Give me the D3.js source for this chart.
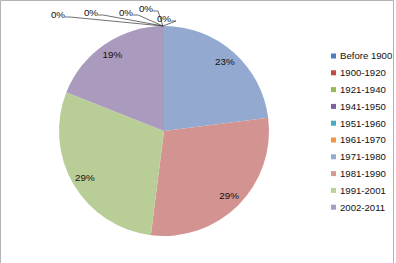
<!DOCTYPE html>
<html>
<head>
<meta charset="utf-8">
<script src="https://cdn.jsdelivr.net/npm/d3@7"></script>
<style>
  body { margin: 0; background: #fff; }
  svg { display: block; font-family: "Liberation Sans", Arial, sans-serif; }
</style>
</head>
<body>
<div class="chart_container"></div>
<script>
// data (share of total, %)
var periods = ["Before 1900", "1900-1920", "1921-1940", "1941-1950", "1951-1960",
               "1961-1970", "1971-1980", "1981-1990", "1991-2001", "2002-2011"];
var shares = [0, 0, 0, 0, 0, 0, 23, 29, 29, 19];
var pieColors = ["#4a7ebb", "#be4b48", "#98b954", "#7d60a0", "#46aac5",
                 "#f69240", "#93a9d0", "#d39391", "#b9cd96", "#a99abe"];
var legendColors = ["#4a7ebb", "#be4b48", "#98b954", "#7d60a0", "#46aac5",
                    "#f69240", "#95abd4", "#d59896", "#bcd19a", "#ab9dc1"];

var width = 396, height = 263;
var cx = 164, cy = 131, radius = 105;

var svg = d3.select(".chart_container").append("svg")
    .attr("width", width)
    .attr("height", height);

// outer frame (bottom edge is cut off in the original)
svg.append("path")
    .attr("d", "M0.5," + height + "V0.5H393.5V" + height)
    .attr("fill", "none")
    .attr("stroke", "#b3b3b3");

var pie = d3.pie().sort(null).value(d => d);
var arcs = pie(shares);

var arc = d3.arc().innerRadius(0).outerRadius(radius);
var labelArc = d3.arc().innerRadius(92).outerRadius(92);

var g = svg.append("g")
    .attr("transform", "translate(" + cx + "," + cy + ")");

g.selectAll("path.slice")
    .data(arcs.filter(d => d.value > 0))
    .enter().append("path")
      .attr("class", "slice")
      .attr("d", arc)
      .attr("fill", d => pieColors[d.index]);

g.selectAll("text.pct")
    .data(arcs.filter(d => d.value > 0))
    .enter().append("text")
      .attr("class", "pct")
      .attr("transform", d => "translate(" + labelArc.centroid(d) + ")")
      .attr("text-anchor", "middle")
      .attr("dy", "0.35em")
      .style("font-size", "9.8px")
      .style("fill", "#111")
      .text(d => d.value + "%");

// the zero slices get pushed out above the pie with leader lines
var zeroSpots = [[58, 15], [91, 13], [126, 13], [146, 9], [164, 19]];
var zeros = arcs.filter(d => d.value === 0).slice(-zeroSpots.length);

svg.selectAll("path.leader")
    .data(zeros)
    .enter().append("path")
      .attr("class", "leader")
      .attr("fill", "none")
      .attr("stroke", "#333")
      .attr("stroke-width", 0.7)
      .attr("d", (d, i) => {
          var p = zeroSpots[i];
          var x0 = p[0] + 7, y0 = p[1] + 2;
          return "M" + x0 + "," + y0 + "H" + (x0 + 5) + "L" + (cx - 1) + "," + (cy - radius);
      });

svg.selectAll("text.zero")
    .data(zeros)
    .enter().append("text")
      .attr("class", "zero")
      .attr("x", (d, i) => zeroSpots[i][0])
      .attr("y", (d, i) => zeroSpots[i][1])
      .attr("text-anchor", "middle")
      .attr("dy", "0.35em")
      .style("font-size", "9.8px")
      .style("fill", "#111")
      .text(d => d.value + "%");

var legend = svg.append("g")
    .attr("transform", "translate(331,56)");

var rows = legend.selectAll("g")
    .data(periods)
    .enter().append("g")
      .attr("transform", (d, i) => "translate(0," + (i * 16.8) + ")");

rows.append("rect")
    .attr("x", 0)
    .attr("y", -2.5)
    .attr("width", 5)
    .attr("height", 5)
    .attr("fill", (d, i) => legendColors[i]);

rows.append("text")
    .attr("x", 9)
    .attr("dy", "0.35em")
    .style("font-size", "9.6px")
    .style("fill", "#111")
    .text(d => d);
</script>
</body>
</html>
